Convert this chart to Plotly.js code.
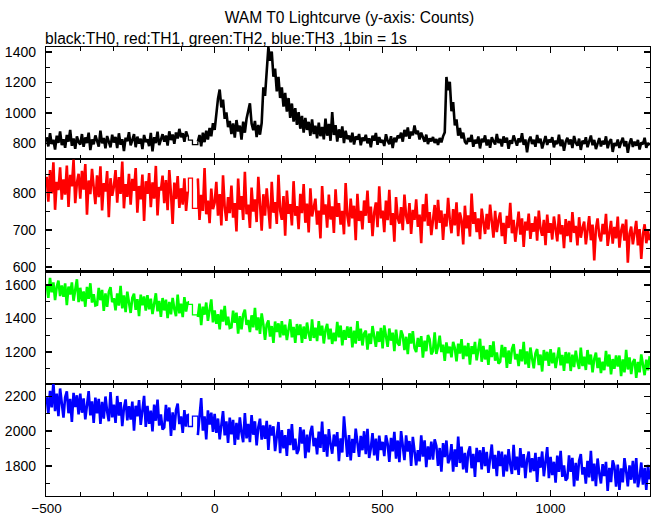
<!DOCTYPE html>
<html>
<head>
<meta charset="utf-8">
<script src="https://cdn.plot.ly/plotly-3.0.1.min.js"></script>
<style>html,body{margin:0;padding:0;background:#fff;}#chart{width:652px;height:515px;}</style>
</head>
<body>
<div id="chart"></div>
<script>
// Time bins (s): light curve, one value every 5 s
const preStart = -500, postStart = -50, binWidth = 5;
const gapTimes = [-78, -66];

// TH0 (black)
const th0Pre = [
842,781,868,797,825,760,851,804,879,790,
828,772,856,812,889,785,833,766,847,809,
794,862,778,840,803,871,757,826,795,853,
817,779,884,801,836,768,849,812,775,858,
806,843,770,867,792,829,751,838,815,874,
788,822,861,776,845,799,832,764,856,810,
827,783,869,748,841,803,877,790,824,861,
812,852,787,880,823,859,798,872,833,896,
841,868,812,879,846];
const th0Gap = [822, 793];
const th0Post = [
812,856,781,871,809,884,826,902,847,934,
889,1012,1094,1153,1036,1088,962,1004,907,948,
862,931,838,954,879,917,826,943,871,962,
1024,1063,931,887,948,842,921,858,934,1168,
1112,1296,1431,1342,1402,1238,1291,1142,1236,1098,
1168,1041,1132,1009,1098,968,1062,943,1031,922,
1006,897,981,872,968,889,942,851,958,862,
917,834,936,848,909,827,963,851,928,818,
1006,856,921,812,893,838,912,803,884,829,
852,808,871,793,846,826,862,788,839,817,
857,801,834,776,851,819,869,792,842,806,
823,784,861,817,795,848,771,838,809,852,
836,871,812,889,846,905,831,878,854,918,
862,884,827,871,843,812,858,796,834,815,
842,804,829,791,836,808,847,873,1236,1148,
1204,1012,1071,918,958,851,902,834,871,812,
796,835,812,857,779,824,801,846,768,831,
809,853,787,826,772,841,815,794,862,803,
829,781,847,806,838,765,821,799,853,812,
786,834,808,867,792,827,743,818,845,797,
824,779,856,803,831,768,812,849,791,826,
807,842,775,819,796,858,783,825,752,811,
838,794,827,771,849,805,786,832,758,819,
797,841,776,815,852,789,823,764,808,836,
781,818,794,847,769,812,829,745,803,784,
826,771,809,838,782,815,739,801,833,778,
812,786,824,761,807,795,838,772,804,789];

// TH1 (red)
const th1Pre = [
843,776,861,798,882,754,829,807,868,781,
836,795,873,762,848,817,889,772,826,851,
784,859,808,877,741,833,796,864,815,769,
847,788,871,752,826,803,858,734,839,792,
816,861,773,842,797,884,758,823,789,851,
768,837,805,866,746,818,782,849,724,831,
797,853,761,828,784,872,739,815,806,846,
772,834,753,861,798,716,827,783,845,759,
812,768,839,751,803];
const th1Gap = [839, 758];
const th1Post = [
838,727,794,751,866,742,779,718,811,756,
773,829,738,796,712,847,761,724,788,745,
819,733,772,696,838,754,791,727,856,742,
768,705,814,749,782,721,843,759,698,796,
738,812,764,703,829,746,775,716,848,752,
727,791,684,806,743,769,712,831,738,764,
702,797,745,823,719,771,693,812,736,758,
784,714,752,677,818,741,769,706,795,728,
763,692,809,735,772,714,751,688,826,739,
709,784,731,765,672,797,724,751,701,779,
738,806,719,763,683,746,774,707,817,731,
752,694,779,726,808,713,745,668,788,732,
717,761,699,795,738,716,772,689,754,727,
782,708,741,664,769,723,797,711,748,686,
734,767,702,781,719,752,673,743,709,786,
728,691,756,712,774,683,747,726,661,765,
704,739,682,798,716,748,694,731,675,757,
722,689,743,701,768,712,679,751,694,726,
747,683,719,662,738,705,773,691,727,668,
712,749,687,731,654,722,698,744,676,718,
695,736,671,752,703,684,727,659,741,692,
718,674,736,697,669,742,688,713,651,729,
683,724,667,748,692,711,658,734,679,705,
722,661,698,737,672,714,618,703,731,684,
669,716,688,743,657,699,724,663,708,677,
736,652,697,716,671,728,612,689,709,661,
693,724,658,702,622,688,715,664,697,672];

// TH2 (green)
const th2Pre = [
1602,1522,1641,1555,1614,1508,1588,1625,1533,1596,
1528,1608,1479,1589,1542,1614,1505,1562,1633,1496,
1582,1502,1560,1469,1587,1516,1609,1494,1544,1477,
1481,1581,1508,1569,1444,1548,1469,1557,1586,1496,
1520,1448,1548,1476,1593,1459,1536,1437,1559,1494,
1432,1522,1547,1451,1514,1413,1541,1478,1530,1446,
1538,1454,1517,1425,1492,1549,1442,1504,1409,1521,
1447,1511,1401,1498,1424,1522,1456,1413,1541,1430,
1487,1407,1526,1440,1499];
const th2Gap = [1483, 1420];
const th2Post = [
1408,1488,1359,1469,1422,1494,1385,1442,1513,1376,
1447,1367,1425,1334,1452,1381,1474,1359,1409,1342,
1346,1446,1373,1434,1309,1413,1334,1422,1451,1361,
1390,1318,1418,1346,1463,1329,1406,1307,1429,1364,
1272,1362,1387,1291,1354,1253,1381,1318,1370,1286,
1383,1299,1362,1270,1337,1394,1287,1349,1254,1366,
1300,1364,1254,1351,1277,1375,1309,1266,1394,1283,
1344,1264,1383,1297,1356,1250,1330,1367,1275,1338,
1247,1314,1264,1379,1286,1357,1239,1330,1272,1352,
1284,1349,1227,1326,1249,1383,1266,1338,1238,1310,
1326,1214,1309,1247,1354,1297,1230,1322,1259,1343,
1221,1358,1287,1230,1339,1267,1314,1204,1333,1253,
1238,1328,1299,1211,1290,1186,1311,1250,1323,1223,
1199,1283,1231,1294,1166,1267,1204,1300,1275,1185,
1205,1316,1188,1231,1297,1199,1243,1146,1256,1192,
1231,1168,1260,1223,1143,1249,1190,1276,1157,1237,
1173,1253,1124,1234,1187,1259,1150,1207,1278,1141,
1235,1155,1213,1122,1240,1169,1262,1147,1197,1130,
1141,1241,1168,1229,1104,1208,1129,1217,1246,1156,
1187,1115,1215,1143,1260,1126,1203,1104,1226,1161,
1102,1192,1217,1121,1184,1083,1211,1148,1200,1116,
1216,1132,1195,1103,1170,1227,1120,1182,1087,1199,
1132,1196,1086,1183,1109,1207,1141,1098,1226,1115,
1172,1092,1211,1125,1184,1078,1158,1195,1103,1166,
1074,1141,1091,1206,1113,1184,1066,1157,1099,1179,
1113,1178,1056,1155,1078,1212,1095,1167,1067,1139,
1157,1045,1140,1078,1185,1128,1061,1153,1090,1174];

// TH3 (blue)
const th3Pre = [
2195,2101,2231,2137,2279,2115,2215,2087,2245,2161,
2078,2195,2228,2103,2185,2053,2220,2138,2206,2096,
2215,2106,2188,2068,2156,2230,2091,2171,2048,2193,
2102,2185,2042,2168,2072,2199,2113,2057,2224,2079,
2152,2048,2202,2090,2167,2029,2133,2182,2062,2144,
2066,2170,2003,2146,2085,2178,2036,2111,2203,2025,
2146,2042,2118,1999,2153,2060,2181,2032,2097,2010,
2021,2151,2056,2136,1973,2108,2006,2120,2158,2041,
2085,1991,2121,2027,2098];
const th3Gap = [2027, 2087];
const th3Post = [
1978,2095,2190,2003,2085,1953,2120,2038,2106,1996,
2100,1991,2073,1953,2041,2115,1976,2056,1933,2078,
1982,2065,1922,2048,1952,2079,1993,1937,2104,1959,
2042,1938,2092,1980,2057,1919,2023,2072,1952,2034,
1956,2060,1893,2036,1975,2028,1886,1961,2053,1875,
2006,1902,1978,1859,2013,1920,2041,1892,1957,1870,
1894,2024,1929,2009,1846,1981,1879,1993,2031,1914,
1962,1868,1998,1904,2056,1882,1982,1854,2012,1928,
1871,1981,1913,1995,1828,1960,1878,2085,1970,1853,
1978,1833,1956,1876,2015,1941,1853,1973,1891,2000,
1869,2014,1847,1903,1989,1862,1958,1832,1975,1892,
1939,1857,1977,1928,1824,1962,1885,1997,1843,1947,
1823,2001,1909,1834,1976,1883,1944,1801,1968,1864,
1805,1892,1827,1976,1855,1948,1794,1913,1837,1941,
1837,1954,1916,1802,1904,1769,1932,1852,1947,1817,
1842,1926,1768,1896,1796,1970,1818,1912,1782,1876,
1763,1880,1913,1788,1870,1738,1905,1823,1891,1781,
1909,1800,1882,1762,1850,1924,1785,1865,1742,1887,
1800,1883,1740,1866,1770,1897,1811,1755,1922,1777,
1854,1750,1904,1792,1869,1731,1835,1884,1764,1846,
1772,1876,1709,1852,1791,1884,1742,1817,1909,1731,
1853,1749,1825,1706,1860,1767,1888,1739,1804,1717,
1732,1862,1767,1847,1684,1819,1717,1831,1869,1752,
1794,1700,1830,1736,1888,1714,1814,1686,1844,1760,
1701,1811,1743,1825,1658,1790,1708,1833,1800,1683,
1809,1664,1787,1707,1846,1772,1684,1804,1722,1831,
1701,1846,1679,1735,1821,1694,1790,1664,1807,1724];

const seriesNames = ['TH0', 'TH1', 'TH2', 'TH3'];
const seriesColors = ['#000000', '#ff0000', '#00ff00', '#0000ff'];
const xTickVals = [-500, 0, 500, 1000];
const yTickVals = [[800, 1000, 1200, 1400], [600, 700, 800], [1200, 1400, 1600], [1800, 2000, 2200]];
const yMinor = [100, 50, 100, 100];
const yRanges = [[697, 1432], [588, 890], [1010, 1679], [1629, 2272]];
const xRange = [-502, 1296];

function times(arr, start) { return arr.map((_, i) => start + i * binWidth); }
const all = [[th0Pre, th0Gap, th0Post], [th1Pre, th1Gap, th1Post], [th2Pre, th2Gap, th2Post], [th3Pre, th3Gap, th3Post]];

const traces = [];
all.forEach((s, k) => {
  const xa = k === 0 ? 'x' : 'x' + (k + 1);
  const ya = k === 0 ? 'y' : 'y' + (k + 1);
  const preX = times(s[0], preStart), postX = times(s[2], postStart);
  const base = {type: 'scatter', mode: 'lines', xaxis: xa, yaxis: ya, hoverinfo: 'skip', name: seriesNames[k]};
  traces.push(Object.assign({}, base, {x: preX, y: s[0], line: {color: seriesColors[k], width: 2.6}}));
  traces.push(Object.assign({}, base, {
    x: [preX[preX.length - 1]].concat(gapTimes, [postX[0]]),
    y: [s[0][s[0].length - 1]].concat(s[1], [s[2][0]]),
    line: {color: seriesColors[k], width: 1.3, shape: 'hv'}}));
  traces.push(Object.assign({}, base, {x: postX, y: s[2], line: {color: seriesColors[k], width: 2.6}}));
});

const fam = 'Liberation Sans, Arial, Helvetica, sans-serif';
const font = {family: fam, size: 14, color: '#000'};
const layout = {
  width: 652, height: 515,
  margin: {l: 46, r: 2, t: 47, b: 19},
  paper_bgcolor: '#fff', plot_bgcolor: '#fff',
  showlegend: false,
  font: font,
  title: {text: 'WAM T0 Lightcurve (y-axis: Counts)', x: 0.536, xanchor: 'center', y: 0.966, yanchor: 'middle', font: {family: fam, size: 15.6, color: '#000'}},
  annotations: [{text: 'black:TH0, red:TH1, green:TH2, blue:TH3 ,1bin = 1s', xref: 'paper', yref: 'paper', x: -0.0045, y: 1.019, xanchor: 'left', yanchor: 'middle', showarrow: false, font: {family: fam, size: 15.6, color: '#000'}}]
};
for (let k = 0; k < 4; k++) {
  const xa = k === 0 ? 'xaxis' : 'xaxis' + (k + 1);
  const ya = k === 0 ? 'yaxis' : 'yaxis' + (k + 1);
  const yid = k === 0 ? 'y' : 'y' + (k + 1);
  const xid = k === 0 ? 'x' : 'x' + (k + 1);
  layout[xa] = {
    range: xRange, anchor: yid, matches: k === 0 ? undefined : 'x',
    tickvals: xTickVals, ticktext: xTickVals.map(v => v < 0 ? '\u2212' + Math.abs(v) : String(v)),
    showticklabels: k === 3, ticks: 'inside', ticklen: 6, tickwidth: 1.5, tickcolor: '#000',
    minor: {dtick: 100, tick0: 0, ticks: 'inside', ticklen: 4, tickcolor: '#000', tickwidth: 1},
    showline: true, linecolor: '#000', linewidth: 1.2, mirror: 'ticks',
    showgrid: false, zeroline: false, tickfont: {family: fam, size: 13.5, color: '#000'}
  };
  layout[ya] = {
    range: yRanges[k], anchor: xid, domain: [0.75 - 0.25 * k, 1 - 0.25 * k],
    tickvals: yTickVals[k], ticks: 'inside', ticklen: 6, tickwidth: 1.5, tickcolor: '#000',
    minor: {dtick: yMinor[k], tick0: 0, ticks: 'inside', ticklen: 4, tickcolor: '#000', tickwidth: 1},
    showline: true, linecolor: '#000', linewidth: 1.2, mirror: 'ticks',
    showgrid: false, zeroline: false, tickfont: font, ticklabelstandoff: 6
  };
}
Plotly.newPlot('chart', traces, layout, {displayModeBar: false, staticPlot: true});
</script>
</body>
</html>
